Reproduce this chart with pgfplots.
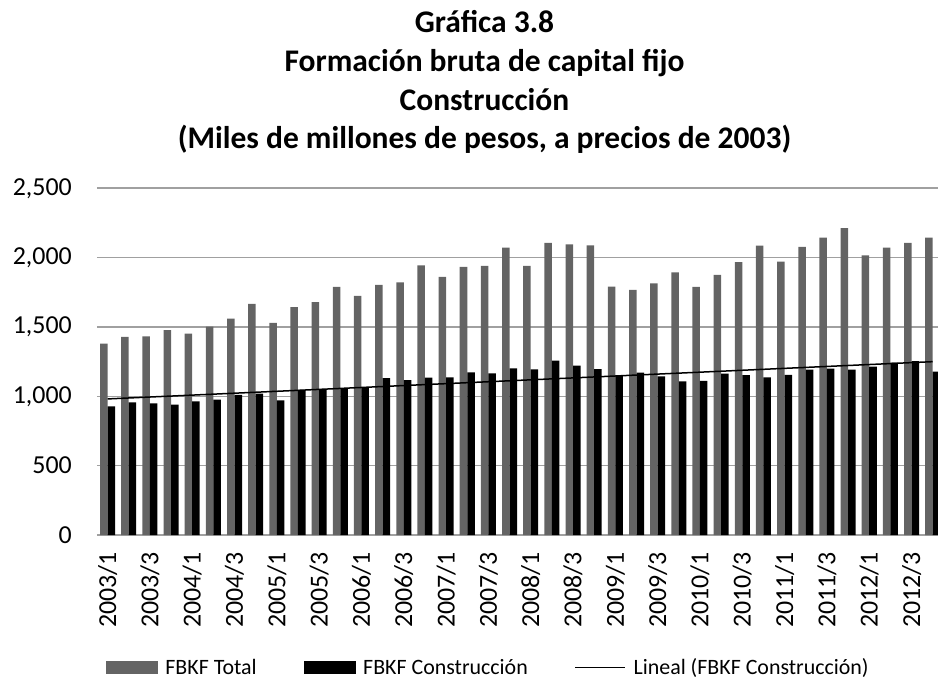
\documentclass[border=0pt]{standalone}
\usepackage{pgfplots}
\pgfplotsset{compat=1.18}
\usepackage{pgfplotstable}
\usepackage{fontspec}
\setmainfont{Carlito}
\definecolor{totalgray}{RGB}{100,100,100}
\definecolor{gridgray}{RGB}{160,160,160}
\pgfplotstableread{
x tot con
0 1380 928
1 1428 957
2 1433 950
3 1478 940
4 1452 964
5 1502 976
6 1560 1010
7 1666 1019
8 1529 971
9 1644 1046
10 1680 1046
11 1789 1058
12 1724 1065
13 1803 1132
14 1822 1116
15 1945 1135
16 1861 1137
17 1933 1173
18 1940 1166
19 2072 1202
20 1940 1195
21 2106 1257
22 2096 1221
23 2089 1197
24 1791 1149
25 1767 1171
26 1815 1144
27 1894 1108
28 1789 1111
29 1875 1163
30 1967 1152
31 2087 1137
32 1971 1154
33 2077 1192
34 2144 1199
35 2212 1192
36 2017 1214
37 2072 1243
38 2106 1253
39 2144 1178
}\datatable
\begin{document}
\begin{tikzpicture}
\useasboundingbox (-97bp,-144bp) rectangle (841bp,535bp);
\begin{axis}[
  at={(0,0)}, anchor=south west,
  scale only axis,
  width=841bp, height=346.7bp,
  xmin=-0.5, xmax=39.25,
  ymin=0, ymax=2500,
  ytick={0,500,1000,1500,2000,2500},
  xtick={0,2,...,38},
  xticklabels={2003/1,2003/3,2004/1,2004/3,2005/1,2005/3,2006/1,2006/3,2007/1,2007/3,2008/1,2008/3,2009/1,2009/3,2010/1,2010/3,2011/1,2011/3,2012/1,2012/3},
  /pgf/number format/assume math mode=true,
  /pgf/number format/1000 sep={,},
  major tick length=0pt,
  axis line style={draw=none},
  ymajorgrids,
  grid style={gridgray, line width=1.6bp},
  tick label style={font=\fontsize{26}{30}\selectfont},
  yticklabel style={anchor=east, inner sep=0pt, xshift=-25bp},
  xticklabel style={rotate=90, anchor=east, inner sep=0pt, xshift=-17bp},
  legend columns=3,
  legend style={at={(0.4653,-0.382)}, anchor=center, draw=none, fill=none,
    font=\fontsize{22}{26}\selectfont, inner sep=0pt,
    /tikz/every odd column/.append style={column sep=5.5bp},
    /tikz/every even column/.append style={column sep=45bp}},
  legend cell align=left,
  clip=true,
]
\addplot[ybar, bar width=0.355, bar shift=-0.1775, fill=totalgray, draw=none,
  legend image code/.code={\fill[totalgray] (0bp,-6.35bp) rectangle (52bp,6.35bp);}]
  table[x=x, y=tot] {\datatable};
\addlegendentry{FBKF Total}
\addplot[ybar, bar width=0.355, bar shift=0.1775, fill=black, draw=none,
  legend image code/.code={\fill[black] (0bp,-6.35bp) rectangle (52bp,6.35bp);}]
  table[x=x, y=con] {\datatable};
\addlegendentry{FBKF Construcción}
\addplot[black, line width=1.5bp, mark=none,
  legend image code/.code={\draw[black, line width=1.3bp] (0bp,0bp) -- (50bp,0bp);}]
  table[x=x, y={create col/linear regression={y=con}}] {\datatable};
\addlegendentry{Lineal (FBKF Construcción)}
\end{axis}
\begin{scope}[every node/.style={font=\bfseries\fontsize{31.6}{36}\selectfont, anchor=base, inner sep=0pt}]
\node at (387.5bp,502bp) {Gráfica 3.8};
\node at (387.5bp,463.3bp) {Formación bruta de capital fijo};
\node at (387.5bp,424.6bp) {Construcción};
\node at (387.5bp,386bp) {(Miles de millones de pesos, a precios de 2003)};
\end{scope}
\end{tikzpicture}
\end{document}
